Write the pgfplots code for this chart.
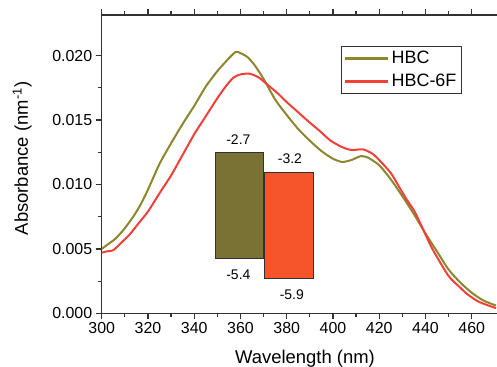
\documentclass[border=0pt]{standalone}
\usepackage{pgfplots}
\pgfplotsset{compat=1.18}
\usepackage{fontspec}
\setmainfont{Liberation Sans}
\definecolor{olv}{RGB}{140,134,45}
\definecolor{rd}{RGB}{242,64,56}
\definecolor{olvfill}{RGB}{122,113,52}
\definecolor{rdfill}{RGB}{246,84,42}
\definecolor{axc}{RGB}{50,50,50}
\begin{document}
\begin{tikzpicture}
\useasboundingbox (-101.7bp,-53.7bp) rectangle (395.3bp,313.3bp);
\begin{axis}[
  at={(0,0)}, anchor=south west, scale only axis,
  width=397.75bp, height=298.3bp,
  xmin=300, xmax=472, ymin=0, ymax=0.02316,
  xtick={300,320,340,360,380,400,420,440,460}, minor x tick num=1,
  ytick={0,0.005,0.010,0.015,0.020}, minor y tick num=1,
  scaled y ticks=false,
  yticklabel style={/pgf/number format/.cd, fixed, fixed zerofill, precision=3},
  tick align=outside, major tick length=6bp, minor tick length=3.5bp,
  tick pos=both,
  xticklabel pos=lower, yticklabel pos=left,
  axis line style={axc, line width=1.1bp},
  tick style={draw=axc, line width=1.2bp},
  tick label style={font=\fontsize{16}{19}\selectfont},
  /pgf/number format/assume math mode=true,
  label style={font=\fontsize{18.5}{22}\selectfont},
  xlabel={Wavelength (nm)},
  ylabel={Absorbance (nm\textsuperscript{-1})},
  xlabel style={at={(axis description cs:0.511,-0.1676)}, anchor=base},
  ylabel style={at={(axis description cs:-0.1853,0.519)}, anchor=base},
  legend style={at={(0.601,0.896)}, anchor=north west, draw=axc, line width=0.8bp,
    font=\fontsize{18}{21}\selectfont, inner xsep=3bp, inner ysep=3.5bp,
    row sep=6bp, nodes={inner xsep=2.3bp, inner ysep=1.5bp}, cells={anchor=west}},
  legend image code/.code={\draw[#1, line width=2.2bp] (0bp,0bp) -- (43bp,0bp);},
]
\addplot[olv, line width=2bp, smooth, tension=0.4] coordinates {
(300,0.0050) (303,0.0054) (306,0.0058) (310,0.0066) (314,0.0076) (317,0.0085)
(320,0.0096) (325,0.0116) (330,0.0132) (335,0.0147) (340,0.0161) (345,0.0176)
(350,0.0188) (355,0.0198) (358,0.0203) (360,0.0202) (363,0.0199) (366,0.0193)
(370,0.0182) (375,0.0166) (380,0.0154) (385,0.0143) (390,0.0134) (395,0.0126)
(400,0.0120) (404,0.01175) (408,0.0119) (412,0.0122) (415,0.0121) (420,0.0115)
(425,0.0104) (430,0.0091) (435,0.0077) (440,0.0062) (445,0.0048) (450,0.0034)
(455,0.0024) (460,0.0016) (465,0.0010) (470.5,0.0006)};
\addlegendentry{HBC}
\addplot[rd, line width=2bp, smooth, tension=0.4] coordinates {
(300,0.0047) (302,0.0048) (305,0.0049) (308,0.0054) (312,0.0061) (316,0.0070)
(320,0.0079) (326,0.0096) (330,0.0107) (335,0.0123) (340,0.0139) (345,0.0153)
(350,0.0167) (354,0.0177) (357,0.0183) (360,0.01855) (364,0.0186) (368,0.0183)
(372,0.0177) (376,0.0171) (380,0.0164) (385,0.0156) (390,0.0148) (394,0.0142)
(399,0.0134) (404,0.0129) (408,0.01268) (413,0.01273) (417,0.0124) (420,0.0119)
(425,0.0109) (428,0.0100) (432,0.0088) (435,0.0080) (438,0.0069) (443,0.0050)
(450,0.0029) (455,0.0020) (458,0.0015) (463,0.0009) (470.5,0.0004)};
\addlegendentry{HBC-6F}
\end{axis}
\begin{axis}[
  at={(0,0)}, anchor=south west, scale only axis,
  width=397.75bp, height=298.3bp,
  xmin=300, xmax=472, ymin=-6.806, ymax=0.821,
  hide axis, clip=false,
]
\addplot[draw=axc, line width=0.7bp, fill=olvfill] coordinates {(349,-5.4) (369.9,-5.4) (369.9,-2.7) (349,-2.7)} -- cycle;
\addplot[draw=axc, line width=0.7bp, fill=rdfill] coordinates {(370.3,-5.9) (391.5,-5.9) (391.5,-3.2) (370.3,-3.2)} -- cycle;
\node[anchor=base, yshift=8bp, inner sep=0pt, font=\fontsize{14}{16}\selectfont] at (axis cs:359.1,-2.7) {-2.7};
\node[anchor=north, yshift=-11bp, inner sep=0pt, font=\fontsize{14}{16}\selectfont] at (axis cs:359.1,-5.4) {-5.4};
\node[anchor=base, yshift=8.4bp, inner sep=0pt, font=\fontsize{14}{16}\selectfont] at (axis cs:381.4,-3.2) {-3.2};
\node[anchor=north, yshift=-11.6bp, inner sep=0pt, font=\fontsize{14}{16}\selectfont] at (axis cs:382.2,-5.9) {-5.9};
\end{axis}
\end{tikzpicture}
\end{document}
